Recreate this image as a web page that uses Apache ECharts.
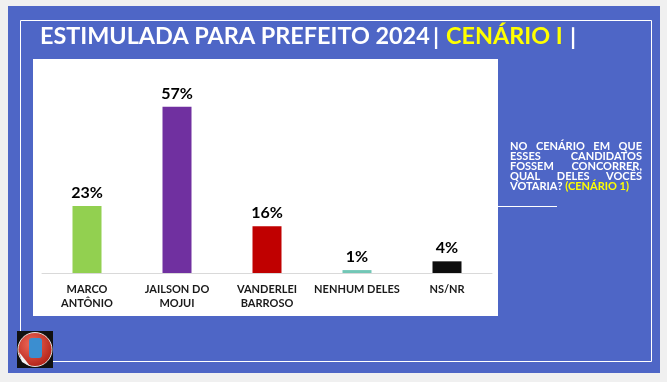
<!DOCTYPE html>
<html><head><meta charset="utf-8">
<script src="https://cdn.jsdelivr.net/npm/echarts@6/dist/echarts.min.js"></script>
<style>html,body{margin:0;padding:0;background:#f0f0f0}#c{width:667px;height:382px}</style>
</head><body><div id="c"></div>
<script>
const categories = ['MARCO\nANTÔNIO', 'JAILSON DO\nMOJUI', 'VANDERLEI\nBARROSO', 'NENHUM DELES', 'NS/NR'];
const values = [23, 57, 16, 1, 4];
const barColors = ['#92d050', '#7030a0', '#c00000', '#72c7b6', '#0d0d0d'];
const titleMain = 'ESTIMULADA PARA PREFEITO 2024';
const titleSub = 'CENÁRIO I';
const sideLines = ['NO CENÁRIO EM QUE', 'ESSES CANDIDATOS', 'FOSSEM CONCORRER,', 'QUAL DELES VOCÊS'];
const sideLast = ['VOTARIA? ', '(CENÁRIO 1)'];

const FONT = 'Lato, "Open Sans", sans-serif';
const chart = echarts.init(document.getElementById('c'), null, {renderer: 'canvas'});

const ctx = document.createElement('canvas').getContext('2d');
// title size fitted to reference width
ctx.font = 'bold 22px ' + FONT;
const tSize = Math.round(22 * 390 / ctx.measureText(titleMain).width * 10) / 10;
const tFont = 'bold ' + tSize + 'px ' + FONT;

// justified side text
const sideFont = 'bold 11px ' + FONT;
ctx.font = sideFont;
const sx0 = 510, sx1 = 642, sy0 = 146, slh = 10;
const sideEls = [];
sideLines.forEach((ln, i) => {
  const words = ln.split(' ');
  const widths = words.map(w => ctx.measureText(w).width);
  const total = widths.reduce((a, b) => a + b, 0);
  const gap = words.length > 1 ? (sx1 - sx0 - total) / (words.length - 1) : 0;
  let x = sx0;
  words.forEach((w, j) => {
    sideEls.push({type: 'text', x: x, y: sy0 + i * slh, style: {text: w, fill: '#ffffff', font: sideFont, verticalAlign: 'middle'}});
    x += widths[j] + gap;
  });
});
ctx.font = sideFont;
const lastW = ctx.measureText(sideLast[0]).width;
sideEls.push({type: 'text', x: sx0, y: sy0 + 4 * slh, style: {text: sideLast[0], fill: '#ffffff', font: sideFont, verticalAlign: 'middle'}});
sideEls.push({type: 'text', x: sx0 + lastW, y: sy0 + 4 * slh, style: {text: sideLast[1], fill: '#ffff00', font: sideFont, verticalAlign: 'middle'}});

chart.setOption({
  animation: false,
  backgroundColor: '#f0f0f0',
  graphic: [
    {type: 'rect', shape: {x: 8, y: 6, width: 652, height: 367}, style: {fill: '#4e66c6'}, z: -10},
    {type: 'rect', shape: {x: 20.5, y: 20.5, width: 631, height: 341}, style: {fill: 'none', stroke: '#ffffff', lineWidth: 1}, z: -9},
    {type: 'rect', shape: {x: 33, y: 59, width: 465, height: 257}, style: {fill: '#ffffff'}, z: -8},
    {type: 'line', shape: {x1: 498, y1: 206.5, x2: 557, y2: 206.5}, style: {stroke: '#ffffff', lineWidth: 1}},
    {type: 'text', x: 40, y: 36, style: {text: titleMain, fill: '#ffffff', font: tFont, verticalAlign: 'middle'}},
    {type: 'text', x: 436, y: 37, style: {text: '|', fill: '#ffffff', font: tFont, align: 'center', verticalAlign: 'middle'}},
    {type: 'text', x: 446, y: 36, style: {text: titleSub, fill: '#ffff00', font: tFont, verticalAlign: 'middle'}},
    {type: 'text', x: 573, y: 37, style: {text: '|', fill: '#ffffff', font: tFont, align: 'center', verticalAlign: 'middle'}},
    // logo
    {type: 'rect', shape: {x: 17, y: 331, width: 36, height: 37}, style: {fill: '#111111'}},
    {type: 'circle', shape: {cx: 35, cy: 349.5, r: 17}, style: {fill: new echarts.graphic.RadialGradient(0.4, 0.35, 0.7, [{offset: 0, color: '#f06a5a'}, {offset: 1, color: '#b01e14'}]), stroke: '#e0e0e0', lineWidth: 1}},
    {type: 'rect', shape: {x: 29, y: 338, width: 13, height: 20, r: 3}, style: {fill: '#3b8ed0'}},
    {type: 'polygon', shape: {points: [[19, 352], [30, 366], [22, 362]]}, style: {fill: '#f4f4f4'}},
    ...sideEls
  ],
  grid: {left: 42, right: 175, top: 98, bottom: 109, containLabel: false},
  xAxis: {
    type: 'category', data: categories,
    axisLine: {lineStyle: {color: '#d9d9d9', width: 1}},
    axisTick: {show: false},
    axisLabel: {color: '#1a1a1a', fontFamily: FONT, fontWeight: 'bold', fontSize: 11, lineHeight: 14.5, margin: 9, interval: 0}
  },
  yAxis: {type: 'value', min: 0, max: 60, show: false, splitLine: {show: false}},
  series: [{
    type: 'bar', barWidth: 29,
    data: values.map((v, i) => ({value: v, itemStyle: {color: barColors[i]}})),
    label: {show: true, position: 'top', distance: 5, formatter: '{c}%', color: '#000000', fontFamily: FONT, fontWeight: 'bold', fontSize: 16}
  }]
});
</script></body></html>
